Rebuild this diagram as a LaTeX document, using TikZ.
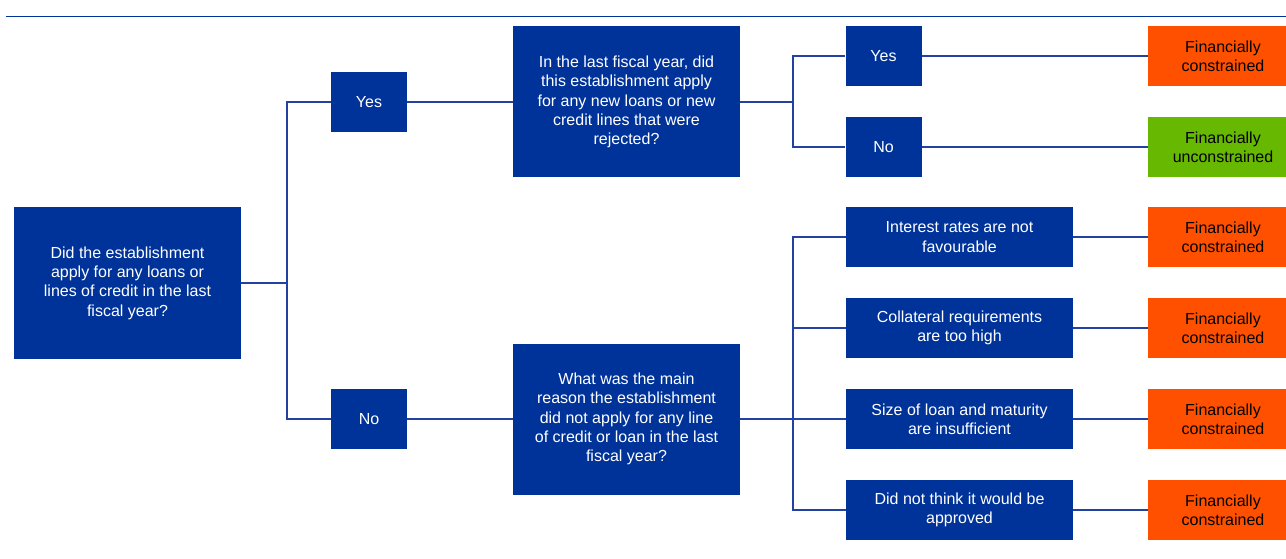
\documentclass[tikz,border=0pt]{standalone}
\usepackage{fontspec}
\setmainfont{Liberation Sans}
\usepackage{tikz}

\definecolor{boxblue}{RGB}{0,51,153}
\definecolor{lineblue}{RGB}{35,65,160}
\definecolor{constrained}{RGB}{255,80,0}
\definecolor{unconstrained}{RGB}{102,184,0}

\tikzset{
    basebox/.style={inner sep=0pt, align=center, font=\fontsize{16}{19.3}\selectfont},
    question/.style={basebox, fill=boxblue, text=white, minimum width=227pt, minimum height=151pt},
    answer/.style={basebox, fill=boxblue, text=white, minimum width=76pt, minimum height=60pt},
    reason/.style={basebox, fill=boxblue, text=white, minimum width=227pt, minimum height=60pt},
    outcome/.style={basebox, fill=constrained, text=black, minimum width=150pt, minimum height=60pt},
    link/.style={draw=lineblue, line width=1.2pt}
}

\begin{document}
\begin{tikzpicture}[x=1pt,y=-1pt]
    \useasboundingbox (0,0) rectangle (1286,559);
    \clip (0,0) rectangle (1286,559);

    % draw header rule
    \draw[boxblue, line width=1.6pt] (6,16.5) -- (1286,16.5);

    % draw questions
    \node[question] (q1) at (127.5,283) {Did the establishment\\apply for any loans or\\lines of credit in the last\\fiscal year?};
    \node[question] (q2) at (626.5,102) {In the last fiscal year, did\\this establishment apply\\for any new loans or new\\credit lines that were\\rejected?};
    \node[question] (q3) at (626.5,419) {What was the main\\reason the establishment\\did not apply for any line\\of credit or loan in the last\\fiscal year?};

    % draw answers
    \node[answer] (yes1) at (369,102) {Yes};
    \node[answer] (no1) at (369,419) {No};
    \node[answer] (yes2) at (883.5,56) {Yes};
    \node[answer] (no2) at (883.5,147) {No};

    % draw reasons
    \foreach \i/\y/\txt in {1/237/{Interest rates are not\\favourable},
                            2/328/{Collateral requirements\\are too high},
                            3/419/{Size of loan and maturity\\are insufficient},
                            4/510/{Did not think it would be\\approved}}
        \node[reason] (r\i) at (959.5,\y) {\txt};

    % draw outcomes
    \node[outcome] (out1) at (1223,56) {Financially\\constrained};
    \node[outcome, fill=unconstrained] (out2) at (1223,147) {Financially\\unconstrained};
    \foreach \i/\y in {3/237,4/328,5/419,6/510}
        \node[outcome] (out\i) at (1223,\y) {Financially\\constrained};

    % draw branch points
    \coordinate (split1) at (287,283);
    \coordinate (split2) at (793,102);
    \coordinate (split3) at (793,419);

    % draw connectors
    \draw[link] (q1.east) -- (split1);
    \draw[link] (split1) |- (yes1.west);
    \draw[link] (split1) |- (no1.west);
    \draw[link] (yes1) -- (q2);
    \draw[link] (no1) -- (q3);

    \draw[link] (q2.east) -- (split2);
    \draw[link] (split2) |- (yes2.west);
    \draw[link] (split2) |- (no2.west);
    \draw[link] (yes2) -- (out1);
    \draw[link] (no2) -- (out2);

    \draw[link] (q3.east) -- (split3);
    \foreach \i [evaluate=\i as \j using int(\i+2)] in {1,...,4} {
        \draw[link] (split3) |- (r\i.west);
        \draw[link] (r\i) -- (out\j);
    }
\end{tikzpicture}
\end{document}
